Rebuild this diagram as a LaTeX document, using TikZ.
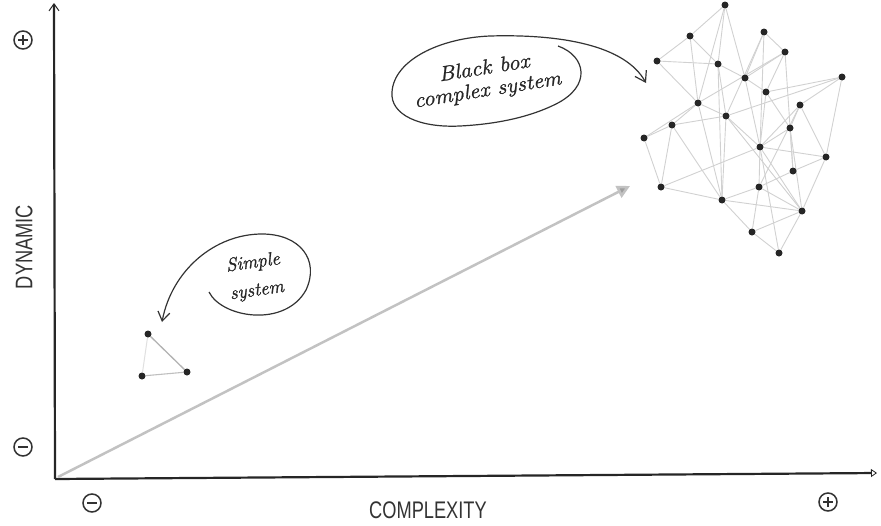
\documentclass[tikz,border=0pt]{standalone}
\usepackage{fontspec}
\newfontfamily\condfont[FakeStretch=0.76]{Liberation Sans}
\newfontfamily\handfont[FakeStretch=1.08,FakeBold=1.2]{Latin Modern Roman}
\newfontfamily\handfontb[FakeBold=1.2]{Latin Modern Roman}
\usetikzlibrary{arrows.meta,backgrounds}
\begin{document}
\begin{tikzpicture}[x=1pt,y=-1pt,
  dot/.style={circle,fill=black!85,inner sep=0pt,minimum size=7pt},
  edge/.style={draw=black!18,line width=0.9pt},
  axis/.style={line width=2.2pt,draw=black!85},
  pmbase/.style={circle,draw=black!80,line width=1.5pt,minimum size=18pt,inner sep=0pt},
  pminus/.style={pmbase,path picture={\draw[line width=1.2pt,black!80] ([xshift=-5pt]path picture bounding box.center) -- ([xshift=5pt]path picture bounding box.center);}},
  pplus/.style={pmbase,path picture={\draw[line width=1.2pt,black!80] ([xshift=-5pt]path picture bounding box.center) -- ([xshift=5pt]path picture bounding box.center) ([yshift=-5pt]path picture bounding box.center) -- ([yshift=5pt]path picture bounding box.center);}},
  lbl/.style={font=\condfont\fontsize{24}{24}\selectfont,text=black!80},
  hand/.style={font=\handfont\itshape\fontsize{21}{22}\selectfont,align=center,text=black!85,inner sep=0pt},
  handsmall/.style={font=\handfontb\itshape\fontsize{19}{28}\selectfont,align=center,text=black!85,inner sep=0pt},
  pen/.style={line width=1.2pt,draw=black!80},
]
\useasboundingbox (0,0) rectangle (881,525);

% axes
\coordinate (O) at (55,479);
\coordinate (Ytop) at (54,3);
\coordinate (Xend) at (877,473);
\draw[axis,-{Straight Barb[length=7pt,width=10pt,line width=1pt]}] (O) -- (Ytop);
\draw[axis,-{Triangle[open,length=6pt,width=8pt,line width=0.8pt]}] (O) -- (Xend);

% plus / minus marks
\node[pplus] (ptop) at (23,40) {};
\node[pminus] (mleft) at (23,447) {};
\node[pminus] (mbot) at (92,503) {};
\node[pplus] (pright) at (828,502) {};

% axis labels
\node[lbl] (xlab) at (428,510) {COMPLEXITY};
\node[lbl,rotate=90] (ylab) at (24,247) {DYNAMIC};

% diagonal arrow
\coordinate (dstart) at (58,477);
\coordinate (dtip) at (630,186);
\draw[line width=2.5pt,draw=black!24,-{Triangle[length=13pt,width=13pt,fill=black!38]}] (dstart) -- (dtip);

% simple system
\node[dot] (s1) at (148,334) {};
\node[dot] (s2) at (142,376) {};
\node[dot] (s3) at (187,372) {};
\begin{scope}[on background layer]
\draw[line width=1.3pt,black!30] (s1) -- (s3);
\draw[line width=1.1pt,black!25] (s2) -- (s3);
\draw[line width=1pt,black!12] (s1) -- (s2);
\end{scope}

\node[handsmall,rotate=8] (sstext) at (255,277) {Simple\\system};
\coordinate (ssstart) at (209,292);
\coordinate (sstip) at (162,322);
\draw[pen,-{Straight Barb[length=9pt,width=12pt,line width=1.2pt]}] (ssstart) .. controls (222,318) and (285,328) .. (306,290) .. controls (320,260) and (300,234) .. (262,234) .. controls (215,234) and (172,270) .. (sstip);

% black box callout
\node[hand,rotate=9] (bbtext) at (486,80) {Black box\\complex system};
\coordinate (bbstart) at (558,46);
\coordinate (bbtip) at (646,83);
\draw[pen,-{Straight Barb[length=10pt,width=13pt,line width=1.2pt]}] (bbstart) .. controls (586,56) and (592,86) .. (556,104) .. controls (532,116) and (500,124) .. (460,126) .. controls (420,128) and (390,115) .. (392,92) .. controls (394,60) and (440,38) .. (490,36) .. controls (560,34) and (625,45) .. (bbtip);

% network
\foreach \i/\x/\y in {1/725/5,2/690/36,3/764/32,4/785/52,5/657/61,6/718/64,7/745/78,8/842/77,9/766/92,10/698/103,11/800/105,12/726/116,13/672/125,14/790/128,15/644/138,16/760/147,17/826/157,18/793/171,19/661/187,20/759/187,21/722/200,22/802/211,23/752/232,24/779/253}
  \node[dot] (n\i) at (\x,\y) {};
\begin{scope}[on background layer]
\foreach \a/\b in {1/2,1/6,1/7,1/10,2/5,2/6,2/10,5/6,5/10,6/7,6/12,6/21,3/4,3/7,3/16,3/12,4/7,4/10,4/18,4/9,7/9,7/16,8/9,8/11,8/17,8/12,9/16,9/14,10/12,10/13,10/21,11/14,11/16,11/17,11/20,12/13,12/16,12/21,12/22,13/15,13/19,13/21,15/19,15/10,14/16,14/18,14/22,16/17,16/20,16/22,16/24,17/18,17/22,18/20,19/21,19/16,20/21,20/23,20/22,21/22,21/23,22/23,22/24,23/24}
  \draw[edge] (n\a) -- (n\b);
\end{scope}
\end{tikzpicture}
\end{document}
